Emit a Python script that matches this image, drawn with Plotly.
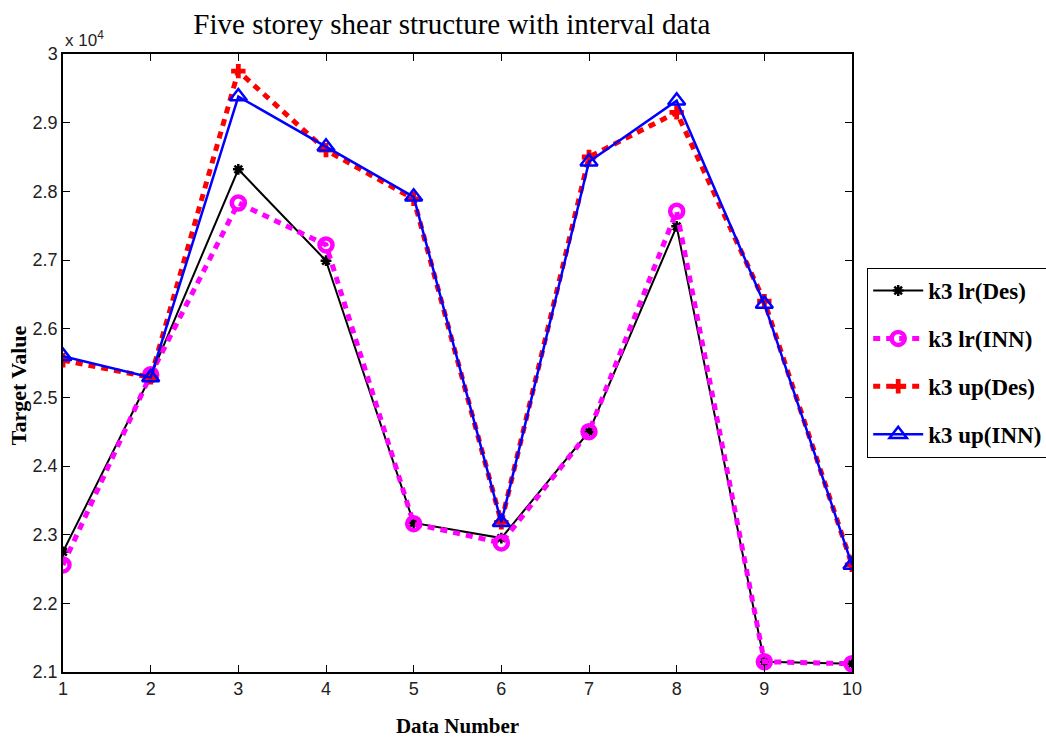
import plotly.graph_objects as go

# Data number (x) and target values for the interval bounds
data_number = [1, 2, 3, 4, 5, 6, 7, 8, 9, 10]

k3_lr_des = [22750, 25310, 28320, 26990, 23170, 22950, 24500, 27490, 21150, 21120]
k3_lr_inn = [22560, 25330, 27830, 27220, 23160, 22880, 24500, 27710, 21150, 21120]
k3_up_des = [25540, 25290, 29750, 28600, 27890, 23180, 28500, 29150, 26400, 22560]
k3_up_inn = [25600, 25290, 29380, 28650, 27920, 23180, 28430, 29320, 26360, 22560]

y_ticks = [21000, 22000, 23000, 24000, 25000, 26000, 27000, 28000, 29000, 30000]
y_tick_text = ["2.1", "2.2", "2.3", "2.4", "2.5", "2.6", "2.7", "2.8", "2.9", "3"]

tick_font = dict(family="Liberation Sans Narrow, Liberation Sans, Arial", size=18, color="#222")
serif = "Liberation Serif, Times New Roman"

fig = go.Figure()

fig.add_trace(go.Scatter(
    x=data_number, y=k3_lr_des, name="k3 lr(Des)", mode="lines+markers",
    legendgroup="a",
    line=dict(color="black", width=2),
    marker=dict(symbol="asterisk-open", size=9, color="black", line=dict(color="black", width=2.5)),
))
fig.add_trace(go.Scatter(
    x=data_number, y=k3_lr_inn, name="k3 lr(INN)", mode="lines+markers",
    legendgroup="b",
    line=dict(color="#ff00ff", width=5, dash="7px,6px"),
    marker=dict(symbol="circle-open", size=13, color="#ff00ff", line=dict(color="#ff00ff", width=4.5)),
))
fig.add_trace(go.Scatter(
    x=data_number, y=k3_up_des, name="k3 up(Des)", mode="lines+markers",
    legendgroup="c",
    line=dict(color="#ff0000", width=5, dash="7px,6px"),
    marker=dict(symbol="cross", size=12, color="#ff0000", line=dict(width=0)),
))
fig.add_trace(go.Scatter(
    x=data_number, y=k3_up_inn, name="k3 up(INN)", mode="lines+markers",
    legendgroup="d",
    line=dict(color="#0000ff", width=2.5),
    marker=dict(symbol="triangle-up-open", size=15, color="#0000ff", line=dict(color="#0000ff", width=2.5)),
))

fig.update_layout(
    width=1046, height=747,
    margin=dict(l=63, r=194, t=54, b=75, autoexpand=False),
    paper_bgcolor="white", plot_bgcolor="white",
    title=dict(
        text="Five storey shear structure with interval data",
        font=dict(family=serif, size=29, color="black"),
        x=0.432, xanchor="center", y=0.968, yanchor="middle",
    ),
    showlegend=True,
    legend=dict(
        x=1.019, xanchor="left", y=0.654, yanchor="top",
        bgcolor="white", bordercolor="black", borderwidth=1.2,
        font=dict(family=serif, size=23, color="black", weight="bold"),
        traceorder="grouped", tracegroupgap=15, itemwidth=50,
    ),
    xaxis=dict(
        range=[1, 10], tickmode="array", tickvals=data_number,
        ticks="inside", ticklen=7, tickcolor="black", tickwidth=1,
        showline=True, linecolor="black", linewidth=1.5, mirror="ticks",
        showgrid=False, zeroline=False, tickfont=tick_font,
        title=dict(text="Data Number", standoff=20,
                   font=dict(family=serif, size=21, color="black", weight="bold")),
    ),
    yaxis=dict(
        range=[21000, 30000], tickmode="array", tickvals=y_ticks, ticktext=y_tick_text,
        ticks="inside", ticklen=7, tickcolor="black", tickwidth=1,
        showline=True, linecolor="black", linewidth=1.5, mirror="ticks",
        showgrid=False, zeroline=False, tickfont=tick_font,
    ),
    annotations=[
        dict(
            text="x 10<sup>4</sup>", xref="paper", yref="paper", x=0.0, y=1.0,
            xanchor="left", yanchor="bottom", yshift=2, showarrow=False,
            font=dict(family="Liberation Sans Narrow, Liberation Sans, Arial", size=17, color="#222"),
        ),
        dict(
            text="Target Value", xref="paper", yref="paper", x=0.0, y=0.464,
            xanchor="center", yanchor="middle", xshift=-45, textangle=-90, showarrow=False,
            font=dict(family=serif, size=22, color="black", weight="bold"),
        ),
    ],
)

fig.write_html("out.html")
